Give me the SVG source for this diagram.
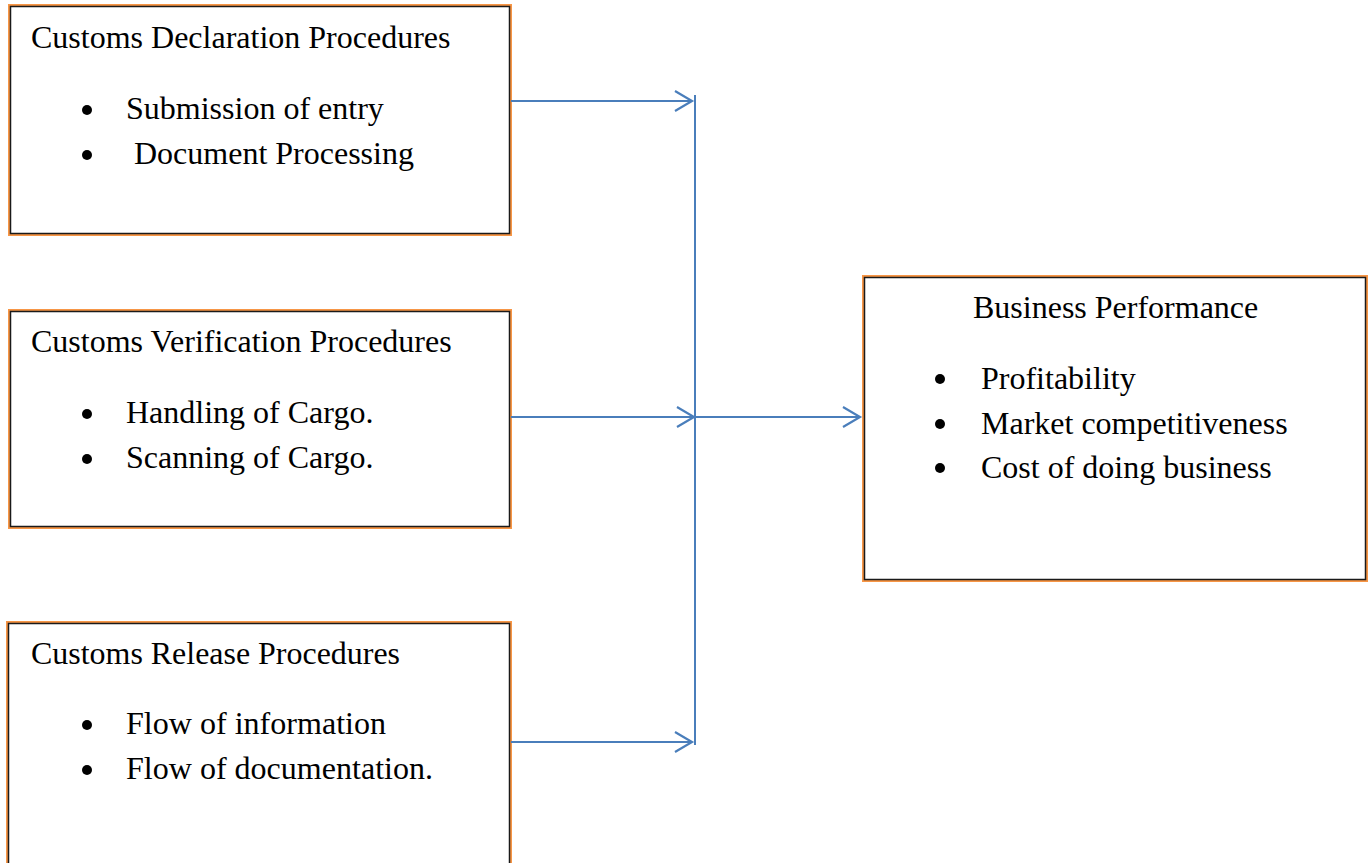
<svg xmlns="http://www.w3.org/2000/svg" width="1371" height="863" viewBox="0 0 1371 863">
<style>
.ob{fill:none;stroke:#F79646;stroke-width:2}
.bb{fill:#fff;stroke:#1a1a1a;stroke-width:1.5}
.t{font-family:"Liberation Serif","Times New Roman",serif;font-size:32px;fill:#000}
.c{stroke:#4A7EBB;stroke-width:2;fill:none}
</style>
<defs>
<marker id="ah" markerWidth="24" markerHeight="24" refX="21" refY="12" orient="auto" markerUnits="userSpaceOnUse">
<path d="M4,2 L21,12 L4,22" fill="none" stroke="#4A7EBB" stroke-width="2.2"/>
</marker>
</defs>
<rect width="1371" height="863" fill="#fff"/>
<g id="node-declaration">
<rect class="ob" x="9" y="5" width="502" height="230"/>
<rect class="bb" x="10.5" y="6.5" width="499" height="227"/>
<text class="t" x="31" y="48">Customs Declaration Procedures</text>
<circle cx="87" cy="110" r="5"/>
<text class="t" x="126" y="119">Submission of entry</text>
<circle cx="87" cy="155" r="5"/>
<text class="t" x="134" y="164">Document Processing</text>
</g>
<g id="node-verification">
<rect class="ob" x="9" y="310" width="502" height="218"/>
<rect class="bb" x="10.5" y="311.5" width="499" height="215"/>
<text class="t" x="31" y="352">Customs Verification Procedures</text>
<circle cx="87" cy="414" r="5"/>
<text class="t" x="126" y="423">Handling of Cargo.</text>
<circle cx="87" cy="459" r="5"/>
<text class="t" x="126" y="468">Scanning of Cargo.</text>
</g>
<g id="node-release">
<rect class="ob" x="7" y="622" width="504" height="260"/>
<rect class="bb" x="8.5" y="623.5" width="501" height="250"/>
<text class="t" x="31" y="664" textLength="369" lengthAdjust="spacingAndGlyphs">Customs Release Procedures</text>
<circle cx="87" cy="725" r="5"/>
<text class="t" x="126" y="734" textLength="260" lengthAdjust="spacingAndGlyphs">Flow of information</text>
<circle cx="87" cy="770" r="5"/>
<text class="t" x="126" y="779" textLength="307" lengthAdjust="spacingAndGlyphs">Flow of documentation.</text>
</g>
<g id="node-performance">
<rect class="ob" x="863" y="276" width="504" height="305"/>
<rect class="bb" x="864.5" y="277.5" width="501" height="302"/>
<text class="t" x="973" y="318">Business Performance</text>
<circle cx="940" cy="379" r="5"/>
<text class="t" x="981" y="389">Profitability</text>
<circle cx="940" cy="424" r="5"/>
<text class="t" x="981" y="434">Market competitiveness</text>
<circle cx="940" cy="468" r="5"/>
<text class="t" x="981" y="478">Cost of doing business</text>
</g>
<g id="connectors">
<line class="c" x1="695" y1="95" x2="695" y2="745"/>
<line class="c" x1="511" y1="101" x2="692" y2="101" marker-end="url(#ah)"/>
<line class="c" x1="511" y1="417" x2="694" y2="417" marker-end="url(#ah)"/>
<line class="c" x1="511" y1="742" x2="692" y2="742" marker-end="url(#ah)"/>
<line class="c" x1="695" y1="417" x2="860" y2="417" marker-end="url(#ah)"/>
</g>
</svg>
